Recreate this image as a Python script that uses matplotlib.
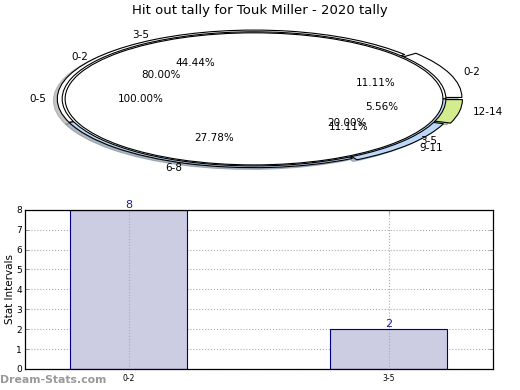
import numpy as np
import matplotlib
matplotlib.use("Agg")
import matplotlib.pyplot as plt

# data
title = "Hit out tally for Touk Miller - 2020 tally"
inner_labels = ["0-5"]
inner_vals = [10]
mid_labels = ["0-2", "3-5"]
mid_vals = [8, 2]
outer_labels = ["0-2", "3-5", "6-8", "9-11", "12-14"]
outer_vals = [2, 8, 5, 2, 1]

bar_cats = ["0-2", "3-5"]
bar_vals = [8, 2]

fig = plt.figure(figsize=(5.2, 3.9), dpi=100)
fig.text(0.5, 0.973, title, ha="center", va="center", fontsize=9.5)

# %% pie part (stretched nested pies)
ax1 = fig.add_axes([0.0155, 0.526, 0.946, 0.441])
edge = {"edgecolor": "black", "linewidth": 0.8}
blue = "#bcd8f8"
green = "#d3ec8e"
shad = {"ox": -0.014, "oy": -0.018, "shade": 0.45}

ax1.pie(outer_vals, labels=outer_labels, autopct="%.2f%%", startangle=0,
        colors=["white", "white", blue, blue, green],
        explode=[0.06, 0, 0, 0.03, 0.06], radius=1.0,
        shadow=shad, wedgeprops=edge, labeldistance=1.07, pctdistance=0.6,
        textprops={"fontsize": 7.5})
ax1.pie(mid_vals, labels=mid_labels, autopct="%.2f%%", startangle=0,
        colors=["white", blue], radius=0.975, shadow=shad,
        wedgeprops=edge, labeldistance=1.07, pctdistance=0.6,
        textprops={"fontsize": 7.5})
ax1.pie(inner_vals, labels=inner_labels, autopct="%.2f%%", startangle=0,
        colors=["white"], radius=0.96, shadow=shad,
        wedgeprops=edge, labeldistance=1.1, pctdistance=0.6,
        textprops={"fontsize": 7.5})
ax1.set_aspect("auto")
ax1.set_xlim(-1.25, 1.25)
ax1.set_ylim(-1.25, 1.25)
ax1.axis("off")

# %% bar part
ax2 = fig.add_axes([0.048, 0.054, 0.9, 0.408])
x = np.arange(len(bar_cats))
bars = ax2.bar(x, bar_vals, width=0.45, color="#ccccE3", edgecolor="#000080",
               linewidth=0.8, zorder=2)
for xi, v in zip(x, bar_vals):
    ax2.text(xi, v, str(v), ha="center", va="bottom", color="#1a1aa0",
             fontsize=8, zorder=4)
for xi in x:
    ax2.axvline(xi, color="#aaaaaa", linestyle=":", linewidth=0.8, zorder=3)
ax2.yaxis.grid(True, color="#aaaaaa", linestyle=":", linewidth=0.8)
ax2.set_axisbelow(True)
ax2.set_xlim(-0.4, 1.4)
ax2.set_ylim(0, 8)
ax2.set_xticks(x)
ax2.set_xticklabels(bar_cats, fontsize=5.5)
ax2.set_yticks(range(0, 9))
ax2.tick_params(axis="y", labelsize=6.5, direction="in", right=True,
                length=3, width=0.6, color="#888888", pad=2)
ax2.tick_params(axis="x", direction="in", top=True, length=3, width=0.6,
                color="#888888")
for s in ax2.spines.values():
    s.set_linewidth(0.9)
ax2.set_ylabel("Stat Intervals", fontsize=7.5, labelpad=1)
ax2.set_xlabel("Frequency", fontsize=7.5, labelpad=8)

fig.text(0.0, 0.025, "Dream-Stats.com", fontsize=7.8, color="#999999",
         fontweight="bold", ha="left", va="center")

fig.savefig("out.png", dpi=100)
